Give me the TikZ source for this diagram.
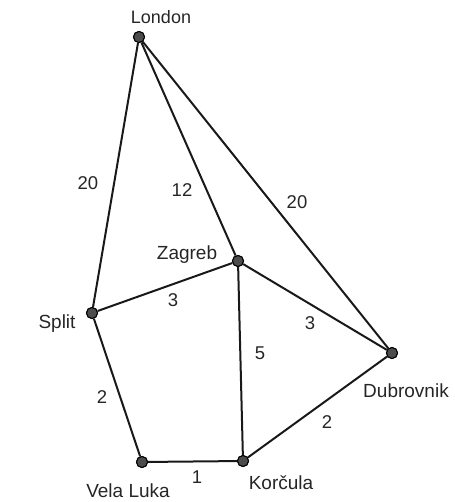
\documentclass[tikz,border=0pt]{standalone}
\usepackage{fontspec}
\setmainfont{Liberation Sans}
\usepackage{tikz}
\tikzset{
  city/.style={draw=black, circle, fill=black!70, line width=1pt, minimum size=11pt, inner sep=0pt},
  cname/.style={font=\fontsize{19}{21}\selectfont, text=black!85, inner sep=0pt},
  road/.style={line width=2pt, black!90},
  dist/.style={font=\fontsize{18.5}{20}\selectfont, text=black!85, inner sep=0pt},
}
\begin{document}
\begin{tikzpicture}[x=1pt, y=-1pt]
\useasboundingbox (0,0) rectangle (454,502);
% ---- cities ----
\node[city] (lon) at (139, 37) {};
\node[city] (zag) at (238, 261) {};
\node[city] (spl) at (92, 313) {};
\node[city] (dub) at (392, 353) {};
\node[city] (vel) at (142, 462) {};
\node[city] (kor) at (243, 461) {};
\node[cname, font=\fontsize{18}{20}\selectfont] (lonl) at (161, 17) {London};
\node[cname] (zagl) at (187, 255) {Zagreb};
\node[cname] (spll) at (57, 324) {Split};
\node[cname] (dubl) at (406, 391) {Dubrovnik};
\node[cname] (vell) at (128, 491) {Vela Luka};
\node[cname] (korl) at (281, 483) {Korčula};
% ---- roads ----
\draw[road] (lon) -- (spl); \draw[road] (lon) -- (zag); \draw[road] (lon) -- (dub);
\draw[road] (spl) -- (zag); \draw[road] (zag) -- (dub); \draw[road] (zag) -- (kor);
\draw[road] (spl) -- (vel); \draw[road] (vel) -- (kor); \draw[road] (kor) -- (dub);
% ---- distances ----
\node[dist] (d1) at (88, 183) {20};
\node[dist] (d2) at (182, 190) {12};
\node[dist] (d3) at (297, 202) {20};
\node[dist] (d4) at (173, 300) {3};
\node[dist] (d5) at (310, 323) {3};
\node[dist] (d6) at (260, 353) {5};
\node[dist] (d7) at (102, 397) {2};
\node[dist] (d8) at (327, 422) {2};
\node[dist] (d9) at (197, 477) {1};
% dots again, on top of the roads
\foreach \c in {lon,zag,spl,dub,vel,kor}
  \node[city] at (\c) {};
\end{tikzpicture}
\end{document}
